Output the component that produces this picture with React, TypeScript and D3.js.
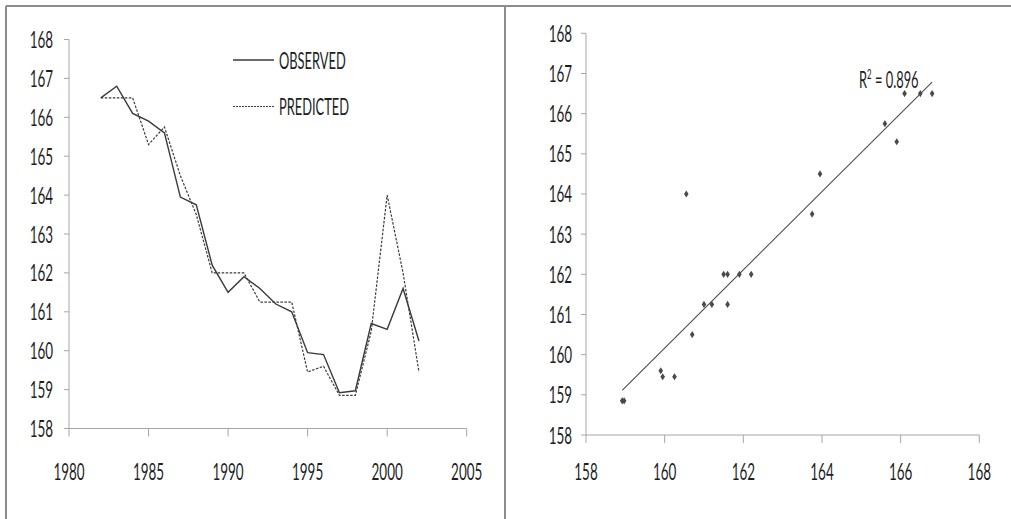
import React from "react";
import * as d3 from "d3";

// Annual series, 1982–2002
const years = [1982, 1983, 1984, 1985, 1986, 1987, 1988, 1989, 1990, 1991, 1992, 1993, 1994, 1995, 1996, 1997, 1998, 1999, 2000, 2001, 2002];
const observed = [166.5, 166.8, 166.1, 165.9, 165.6, 163.95, 163.75, 162.2, 161.5, 161.9, 161.6, 161.2, 161.0, 159.95, 159.9, 158.92, 158.97, 160.7, 160.55, 161.6, 160.25];
const predicted = [166.5, 166.5, 166.5, 165.3, 165.75, 164.5, 163.5, 162.0, 162.0, 162.0, 161.25, 161.25, 161.25, 159.45, 159.6, 158.85, 158.85, 160.5, 164.0, 162.0, 159.45];

const yearTicks = [1980, 1985, 1990, 1995, 2000, 2005];
const valueTicks = [158, 159, 160, 161, 162, 163, 164, 165, 166, 167, 168];
const scatterXTicks = [158, 160, 162, 164, 166, 168];
const legendLabels = ["OBSERVED", "PREDICTED"];
const r2Text = "0.896";

const FONT = "Lato, 'Liberation Sans', sans-serif";
const SX = 0.56;
const AXIS = "#a6a6a6";
const INK = "#3a3a3a";

function Label({ x, y, anchor = "middle", size = 24, children }: any) {
  return (
    <text
      transform={`translate(${x},${y}) scale(${SX},1)`}
      textAnchor={anchor}
      fontFamily={FONT}
      fontSize={size}
      fill="#1e1e1e"
    >
      {children}
    </text>
  );
}

export default function App() {
  // left panel: time series
  const lx = d3.scaleLinear().domain([1980, 2005]).range([69, 466.7]);
  const ly = d3.scaleLinear().domain([158, 168]).range([428.5, 39.5]);
  const lineGen = (vals: number[]) =>
    d3.line<number>().x((_, i) => lx(years[i])).y((v) => ly(v))(vals) as string;

  // right panel: predicted vs observed
  const rx = d3.scaleLinear().domain([158, 168]).range([586, 979.3]);
  const ry = d3.scaleLinear().domain([158, 168]).range([435, 33.3]);

  // least-squares fit of predicted on observed
  const mx = d3.mean(observed)!;
  const my = d3.mean(predicted)!;
  let sxy = 0, sxx = 0;
  observed.forEach((o, i) => {
    sxy += (o - mx) * (predicted[i] - my);
    sxx += (o - mx) * (o - mx);
  });
  const slope = sxy / sxx;
  const icpt = my - slope * mx;
  const [x0, x1] = d3.extent(observed) as [number, number];

  const diamond = "M0,-3.6L2.3,0L0,3.6L-2.3,0Z";

  return (
    <svg
      width={1011}
      height={519}
      style={{ position: "absolute", left: 0, top: 0, background: "#fff" }}
    >
      <rect x={0} y={0} width={1011} height={519} fill="#fff" />
      {/* panel frames */}
      <g stroke="#8c8c8c" strokeWidth={2} fill="none">
        <line x1={6} y1={6} x2={1011} y2={6} />
        <line x1={6} y1={6} x2={6} y2={519} />
        <line x1={505} y1={6} x2={505} y2={519} />
      </g>

      {/* left panel axes */}
      <g stroke={AXIS} strokeWidth={1}>
        <line x1={lx(1980)} y1={ly(158)} x2={lx(1980)} y2={ly(168)} />
        <line x1={lx(1980)} y1={ly(158)} x2={lx(2005)} y2={ly(158)} />
        {valueTicks.map((t) => (
          <line key={t} x1={lx(1980) - 5} x2={lx(1980)} y1={ly(t)} y2={ly(t)} />
        ))}
        {yearTicks.map((t) => (
          <line key={t} x1={lx(t)} x2={lx(t)} y1={ly(158)} y2={ly(158) + 8} />
        ))}
      </g>
      {valueTicks.map((t) => (
        <Label key={t} x={lx(1980) - 16} y={ly(t) + 8.5} anchor="end">{t}</Label>
      ))}
      {yearTicks.map((t) => (
        <Label key={t} x={lx(t)} y={480}>{t}</Label>
      ))}

      <path d={lineGen(predicted)} fill="none" stroke={INK} strokeWidth={1.2} strokeDasharray="2.5,1.5" />
      <path d={lineGen(observed)} fill="none" stroke={INK} strokeWidth={1.4} />

      {/* legend */}
      <line x1={233} x2={274} y1={60} y2={60} stroke={INK} strokeWidth={1.4} />
      <line x1={233} x2={274} y1={106.5} y2={106.5} stroke={INK} strokeWidth={1.2} strokeDasharray="2,1" />
      <Label x={279} y={68.5} anchor="start" size={23}>{legendLabels[0]}</Label>
      <Label x={279} y={115} anchor="start" size={23}>{legendLabels[1]}</Label>

      {/* right panel axes */}
      <g stroke={AXIS} strokeWidth={1}>
        <line x1={rx(158)} y1={ry(158)} x2={rx(158)} y2={ry(168)} />
        <line x1={rx(158)} y1={ry(158)} x2={rx(168)} y2={ry(158)} />
        {valueTicks.map((t) => (
          <line key={t} x1={rx(158) - 5} x2={rx(158)} y1={ry(t)} y2={ry(t)} />
        ))}
        {scatterXTicks.map((t) => (
          <line key={t} x1={rx(t)} x2={rx(t)} y1={ry(158)} y2={ry(158) + 8} />
        ))}
      </g>
      {valueTicks.map((t) => (
        <Label key={t} x={rx(158) - 14} y={ry(t) + 8.5} anchor="end">{t}</Label>
      ))}
      {scatterXTicks.map((t) => (
        <Label key={t} x={rx(t)} y={480}>{t}</Label>
      ))}

      <line
        x1={rx(x0)} y1={ry(icpt + slope * x0)}
        x2={rx(x1)} y2={ry(icpt + slope * x1)}
        stroke="#4d4d4d" strokeWidth={1.1}
      />
      {observed.map((o, i) => (
        <path key={i} d={diamond} transform={`translate(${rx(o)},${ry(predicted[i])})`} fill="#4a4a4a" />
      ))}
      <text
        transform={`translate(859,88) scale(${SX},1)`}
        fontFamily={FONT}
        fontSize={23}
        fill="#1e1e1e"
      >
        R<tspan fontSize={14} dy={-9}>2</tspan>
        <tspan dy={9}>{` = ${r2Text}`}</tspan>
      </text>
    </svg>
  );
}
